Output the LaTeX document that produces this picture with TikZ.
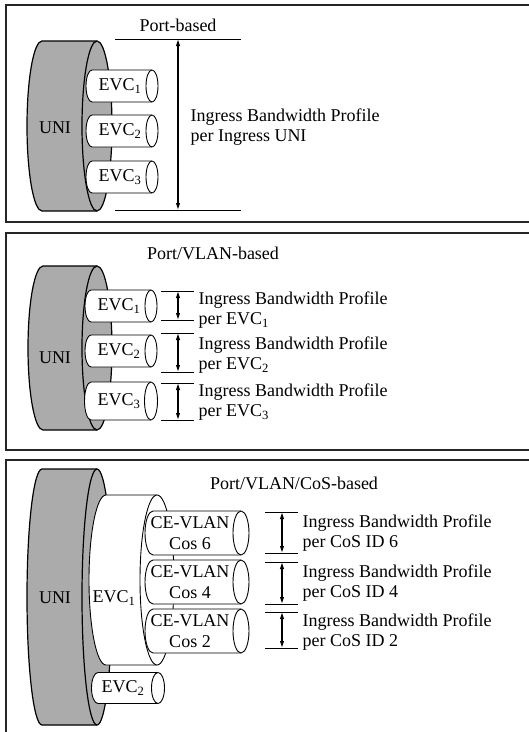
\documentclass[tikz,border=0pt]{standalone}
\usepackage{fontspec}
\setmainfont{Liberation Serif}
\usetikzlibrary{arrows.meta,positioning}

% pipe seen from the side: left cap x, right cap x, centre y, x radius, y radius
\newcommand{\evcpipe}[5]{%
    \filldraw[pipe] (#1,{#3-#5}) -- (#2,{#3-#5})
        arc[start angle=-90, end angle=90, x radius=#4, y radius=#5] -- (#1,{#3+#5})
        arc[start angle=90, end angle=270, x radius=#4, y radius=#5] -- cycle;
    \draw[pipe] (#2,{#3-#5}) arc[start angle=270, end angle=90, x radius=#4, y radius=#5];}
% the UNI disc: back x, front x, centre y, x radius, y radius
\newcommand{\unidisc}[5]{%
    \filldraw[disc] (#1,{#3-#5})
        arc[start angle=270, end angle=90, x radius=#4, y radius=#5] -- (#2,{#3+#5})
        arc[start angle=90, end angle=-90, x radius=#4, y radius=#5] -- cycle;
    \draw[disc] (#2,{#3-#5}) arc[start angle=270, end angle=90, x radius=#4, y radius=#5];}

\begin{document}
\begin{tikzpicture}[x=1pt, y=-1pt, >={Latex[length=7pt,width=4.5pt]},
    every node/.style={font=\fontsize{18}{21}\selectfont},
    panel/.style={draw=black!85, line width=1.3pt},
    disc/.style={draw=black, fill=black!33, line width=1.2pt, line join=round},
    pipe/.style={draw=black, fill=white, line width=0.9pt},
    tick/.style={line width=1pt},
    dim/.style={<->, line width=1.1pt},
    caption/.style={anchor=west, align=left, font=\fontsize{18}{20}\selectfont}]
    \useasboundingbox (0,0) rectangle (529,732);

    % ---------- Port-based ----------
    \draw[panel] (6,5) rectangle (540,222);
    \unidisc{42}{97}{126}{15}{85}
    \node (uniA) at (55,128) {UNI};
    \evcpipe{92}{152}{86}{6}{16}
    \evcpipe{92}{152}{131}{6}{16}
    \evcpipe{92}{152}{177}{6}{16}
    \node (evcA1) at (120,86) {EVC\textsubscript{1}};
    \node (evcA2) at (120,131) {EVC\textsubscript{2}};
    \node (evcA3) at (120,177) {EVC\textsubscript{3}};
    \node (titleA) at (178,25) {Port-based};
    % profile limits
    \coordinate (topA) at (178,39);
    \coordinate (botA) at (178,210);
    \draw[tick] (115,39) -- (241,39);
    \draw[tick] (115,210) -- (241,210);
    \draw[dim] (topA) -- (botA);
    \node[caption] (bwA) at (187,127) {Ingress Bandwidth Profile\\per Ingress UNI};

    % ---------- Port/VLAN-based ----------
    \draw[panel] (6,233) rectangle (540,450);
    \unidisc{43}{97}{348}{15}{82}
    \node (uniB) at (55,358) {UNI};
    \evcpipe{91}{151}{306}{6}{16}
    \evcpipe{91}{151}{351}{6}{16}
    \evcpipe{91}{151}{401}{6.5}{19}
    \node (evcB1) at (119,306) {EVC\textsubscript{1}};
    \node (evcB2) at (119,351) {EVC\textsubscript{2}};
    \node (evcB3) at (119,401) {EVC\textsubscript{3}};
    \node (titleB) at (213,253) {Port/VLAN-based};
    % profile limits per EVC
    \coordinate (topB1) at (178,291);
    \coordinate (botB1) at (178,320);
    \coordinate (topB2) at (178,333);
    \coordinate (botB2) at (178,372);
    \coordinate (topB3) at (178,383);
    \coordinate (botB3) at (178,420);
    \draw[tick] (161,291) -- (194,291);
    \draw[tick] (161,320) -- (194,320);
    \draw[tick] (161,333) -- (194,333);
    \draw[tick] (161,372) -- (194,372);
    \draw[tick] (161,383) -- (194,383);
    \draw[tick] (161,420) -- (194,420);
    \draw[dim] (topB1) -- (botB1);
    \draw[dim] (topB2) -- (botB2);
    \draw[dim] (topB3) -- (botB3);
    \node[caption] (bwB1) at (195,310) {Ingress Bandwidth Profile\\per EVC\textsubscript{1}};
    \node[caption] (bwB2) at (195,355) {Ingress Bandwidth Profile\\per EVC\textsubscript{2}};
    \node[caption] (bwB3) at (195,402) {Ingress Bandwidth Profile\\per EVC\textsubscript{3}};

    % ---------- Port/VLAN/CoS-based ----------
    \draw[panel] (6,460) rectangle (540,745);
    \unidisc{42}{97}{597}{15}{128}
    \node (uniC) at (55,598) {UNI};
    \evcpipe{106}{157}{580}{17}{85}
    \node (evcC1) at (114,598) {EVC\textsubscript{1}};
    \evcpipe{153}{241}{533}{8}{22}
    \evcpipe{153}{241}{582}{8}{22}
    \evcpipe{153}{241}{631}{8}{22}
    \node[align=center] (cos6) at (190,533) {CE-VLAN\\Cos 6};
    \node[align=center] (cos4) at (190,582) {CE-VLAN\\Cos 4};
    \node[align=center] (cos2) at (190,631) {CE-VLAN\\Cos 2};
    \evcpipe{98}{158}{688}{6.5}{15.5}
    \node (evcC2) at (123,688) {EVC\textsubscript{2}};
    \node (titleC) at (294,483) {Port/VLAN/CoS-based};
    % profile limits per CoS
    \coordinate (top6) at (282,512);
    \coordinate (bot6) at (282,553);
    \coordinate (top4) at (282,562);
    \coordinate (bot4) at (282,604);
    \coordinate (top2) at (282,612);
    \coordinate (bot2) at (282,648);
    \draw[tick] (265,512) -- (298,512);
    \draw[tick] (265,553) -- (298,553);
    \draw[tick] (265,562) -- (298,562);
    \draw[tick] (265,604) -- (298,604);
    \draw[tick] (265,612) -- (298,612);
    \draw[tick] (265,648) -- (298,648);
    \draw[dim] (top6) -- (bot6);
    \draw[dim] (top4) -- (bot4);
    \draw[dim] (top2) -- (bot2);
    \node[caption] (bw6) at (299,533) {Ingress Bandwidth Profile\\per CoS ID 6};
    \node[caption] (bw4) at (299,583) {Ingress Bandwidth Profile\\per CoS ID 4};
    \node[caption] (bw2) at (299,632) {Ingress Bandwidth Profile\\per CoS ID 2};
\end{tikzpicture}
\end{document}
